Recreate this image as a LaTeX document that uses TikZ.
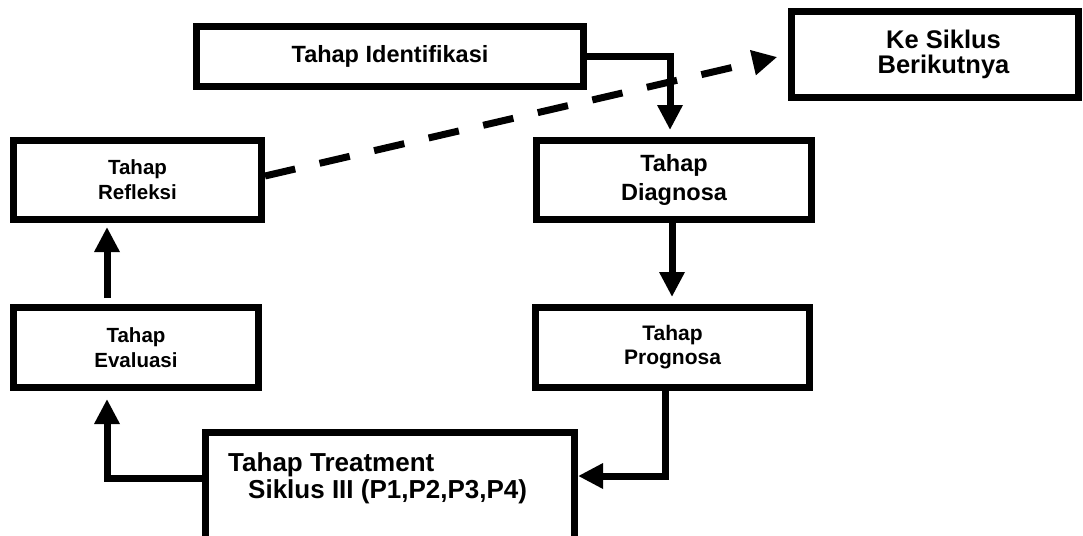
\documentclass[tikz,border=0pt]{standalone}
\usepackage{fontspec}
\setmainfont{Liberation Sans}
\usetikzlibrary{arrows.meta,calc}
\begin{document}
\begin{tikzpicture}[x=1pt,y=-1pt,
  stagebox/.style={draw, line width=7pt, rectangle, inner sep=0pt, align=center},
  arr/.style={line width=7pt, -{Triangle[width=24pt,length=25pt]}},
  dashedarr/.style={arr, dash pattern=on 31pt off 25pt}
]
\useasboundingbox (0,0) rectangle (1083,535);
\clip (0,0) rectangle (1083,535);
\fill[white] (0,0) rectangle (1083,535);

\node[stagebox, minimum width=387pt, minimum height=60pt,
      font={\fontsize{23.5}{28}\selectfont\bfseries}] (ident) at (390,56.5) {Tahap Identifikasi};
\node[stagebox, minimum width=287pt, minimum height=86pt,
      font={\fontsize{25.5}{25.5}\selectfont\bfseries}] (next) at (935,54.5)
      {\hspace*{17pt}Ke Siklus\\\hspace*{17pt}Berikutnya};
\node[stagebox, minimum width=248pt, minimum height=79pt,
      font={\fontsize{20.5}{25}\selectfont\bfseries}] (refl) at (137.5,180) {Tahap\\Refleksi};
\node[stagebox, minimum width=275pt, minimum height=79pt,
      font={\fontsize{23.5}{28.5}\selectfont\bfseries}] (diag) at (674,180) {Tahap\\Diagnosa};
\node[stagebox, minimum width=245pt, minimum height=80pt,
      font={\fontsize{20.5}{25}\selectfont\bfseries}] (eval) at (136,347.5) {Tahap\\Evaluasi};
\node[stagebox, minimum width=274pt, minimum height=80pt,
      font={\fontsize{21}{24}\selectfont\bfseries}] (prog) at (672.5,347.5) {Tahap\\Prognosa};
\node[stagebox, minimum width=369pt, minimum height=124pt] (treat) at (390,494.5) {};
\node[anchor=north west, inner sep=0pt, align=left,
      font={\fontsize{26}{27.5}\selectfont\bfseries}] (treatlabel) at (228,452)
      {Tahap Treatment\\\hspace*{20pt}Siklus III (P1,P2,P3,P4)};

\draw[arr, shorten >=7pt] (ident.east) -| ([xshift=-4pt]diag.north);
\draw[arr, shorten >=7pt] ([xshift=-2pt]diag.south) -- ([xshift=-2pt]diag.south |- prog.north);
\draw[arr] ([xshift=-7pt]prog.south) |- ($(treat.north east)+(0,47)$);
\draw[arr, shorten >=8pt] ($(treat.north west)+(0,49)$) -| ([xshift=-29pt]eval.south);
\draw[arr, shorten <=6pt, shorten >=4pt] ([xshift=-29pt]eval.north) -- ([xshift=-29pt]eval.north |- refl.south);
\draw[dashedarr, shorten >=11pt] ([yshift=4pt]refl.east) -- (next.west);
\end{tikzpicture}
\end{document}
